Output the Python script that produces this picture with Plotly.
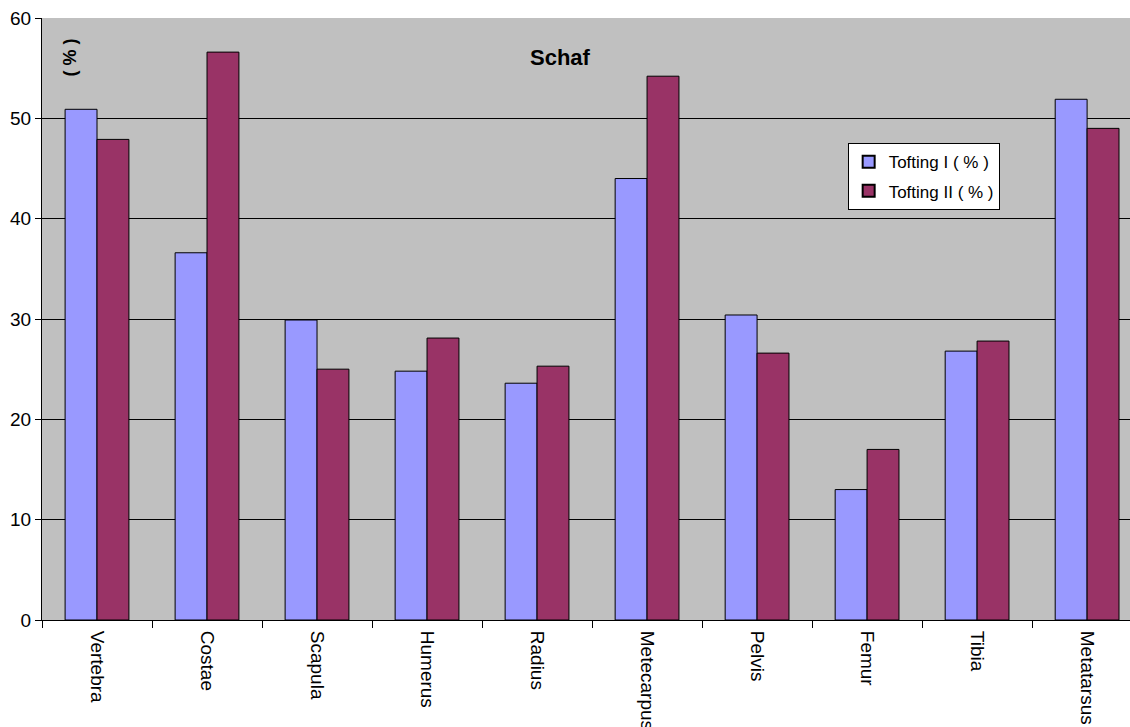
import plotly.graph_objects as go

categories = ["Vertebra", "Costae", "Scapula", "Humerus", "Radius",
              "Metecarpus", "Pelvis", "Femur", "Tibia", "Metatarsus"]
tofting1 = [50.9, 36.6, 29.9, 24.8, 23.6, 44.0, 30.4, 13.0, 26.8, 51.9]
tofting2 = [47.9, 56.6, 25.0, 28.1, 25.3, 54.2, 26.6, 17.0, 27.8, 49.0]
yticks = [0, 10, 20, 30, 40, 50, 60]

font = "Liberation Sans, Arial, sans-serif"

fig = go.Figure()
fig.add_trace(go.Bar(x=categories, y=tofting1, name="Tofting I ( % )", legendgroup="a",
                     marker=dict(color="#9999FF", line=dict(color="black", width=1))))
fig.add_trace(go.Bar(x=categories, y=tofting2, name="Tofting II ( % )", legendgroup="b",
                     marker=dict(color="#993366", line=dict(color="black", width=1))))

fig.update_layout(
    width=1130, height=727,
    margin=dict(l=42, r=0, t=18, b=107),
    paper_bgcolor="white", plot_bgcolor="#C0C0C0",
    barmode="group", bargap=0.42, bargroupgap=0,
    font=dict(family=font, size=19, color="black"),
    showlegend=True,
    legend=dict(x=0.7405, y=0.792, xanchor="left", yanchor="top",
                bgcolor="white", bordercolor="black", borderwidth=1,
                font=dict(size=17), itemsizing="constant",
                itemwidth=30, tracegroupgap=4, traceorder="grouped"),
    xaxis=dict(type="category", range=[-0.5, 9.39], tickson="boundaries",
               ticks="outside", ticklen=7, tickcolor="black",
               tickangle=90, showline=True, linecolor="black", linewidth=1,
               showgrid=False, tickfont=dict(size=19), ticklabelstandoff=6,
               automargin=False),
    yaxis=dict(range=[0, 60], tickvals=yticks, ticks="outside", ticklen=6,
               tickcolor="black", showline=True, linecolor="black",
               linewidth=1, showgrid=True, gridcolor="black", gridwidth=1,
               zeroline=False, tickfont=dict(size=19), automargin=False),
    annotations=[
        dict(text="<b>Schaf</b>", x=0.4765, y=0.935, xref="paper", yref="paper",
             showarrow=False, font=dict(size=22), xanchor="center", yanchor="middle"),
        dict(text="<b>( % )</b>", x=0.026, y=0.935, xref="paper", yref="paper",
             showarrow=False, textangle=-90, font=dict(size=18),
             xanchor="center", yanchor="middle"),
    ],
)

fig.write_html("out.html", config={"displayModeBar": False},
               post_script="document.body.style.margin='0';")
